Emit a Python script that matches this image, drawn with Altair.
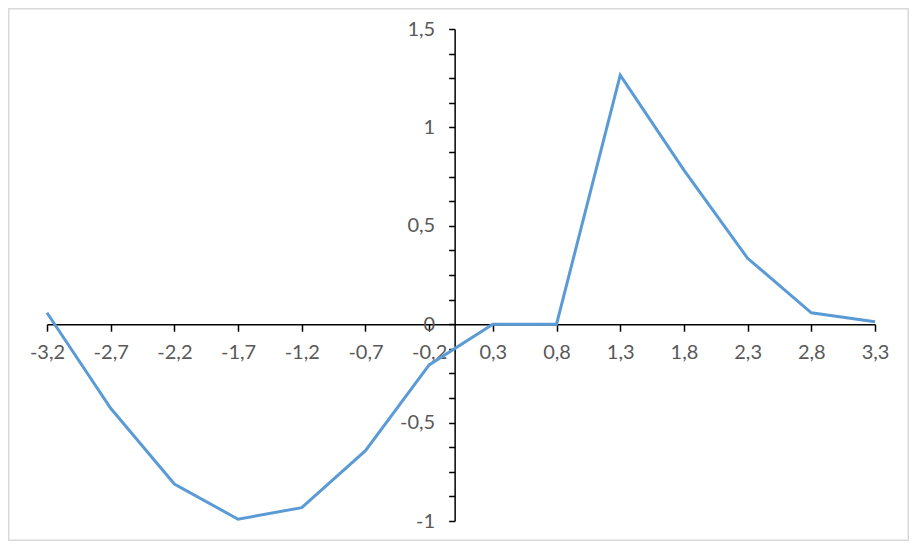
import altair as alt
import pandas as pd

x_vals = [-3.2, -2.7, -2.2, -1.7, -1.2, -0.7, -0.2, 0.3, 0.8, 1.3, 1.8, 2.3, 2.8, 3.3]
y_vals = [0.058, -0.427, -0.812, -0.991, -0.932, -0.643, -0.207, 0.0, 0.0, 1.266, 0.783, 0.335, 0.058, 0.013]
x_ticks = [-3.2, -2.7, -2.2, -1.7, -1.2, -0.7, -0.2, 0.3, 0.8, 1.3, 1.8, 2.3, 2.8, 3.3]
y_ticks = [-1 + 0.125 * i for i in range(21)]

df = pd.DataFrame({"x": x_vals, "y": y_vals})

W, H = 828, 492
PL, PT = 39, 21
PR, PB = 34, 20

xscale = alt.Scale(domain=[-3.2, 3.3], nice=False, zero=False)
yscale = alt.Scale(domain=[-1, 1.5], nice=False, zero=False)

# offsets so the axes cross at zero
x_zero_px = W * 3.2 / 6.5
y_zero_px = H * 1.5 / 2.5

x_axis = alt.Axis(
    values=x_ticks,
    labelExpr="replace(toString(datum.value), '.', ',')",
    offset=-(H - y_zero_px),
    domainColor="black", domainWidth=1.5,
    tickColor="black", tickWidth=1.5, tickSize=7,
    labelColor="#595959", labelFontSize=20, labelFont="Lato",
    labelPadding=11, labelOverlap=False, labelFlush=False,
    grid=False, title=None,
)
y_axis = alt.Axis(
    values=y_ticks,
    labelExpr="(datum.value % 0.5 == 0) ? replace(toString(datum.value), '.', ',') : ''",
    offset=-x_zero_px,
    domainColor="black", domainWidth=1.5,
    tickColor="black", tickWidth=1.5, tickSize=6,
    labelColor="#595959", labelFontSize=20, labelFont="Lato",
    labelPadding=14, labelOverlap=False, labelFlush=False, labelBaseline="middle",
    grid=False, title=None,
)

line = alt.Chart(df).mark_line(color="#5B9BD5", strokeWidth=3, clip=False).encode(
    x=alt.X("x:Q", scale=xscale, axis=x_axis),
    y=alt.Y("y:Q", scale=yscale, axis=y_axis),
)

border = alt.Chart(pd.DataFrame({"a": [0]})).mark_rect(
    fill=None, stroke="#d9d9d9", strokeWidth=1.5, clip=False
).encode(
    x=alt.value(-PL + 0.75),
    x2=alt.value(W + PR - 0.75),
    y=alt.value(-PT + 0.75),
    y2=alt.value(H + PB - 0.75),
)

chart = alt.layer(border, line).properties(
    width=W, height=H,
    padding={"left": PL, "top": PT, "right": PR, "bottom": PB},
    autosize=alt.AutoSizeParams(type="none"),
).configure(background="white", view=alt.ViewConfig(stroke=None))

chart.save("out.html", embed_options={"renderer": "svg", "actions": False})
